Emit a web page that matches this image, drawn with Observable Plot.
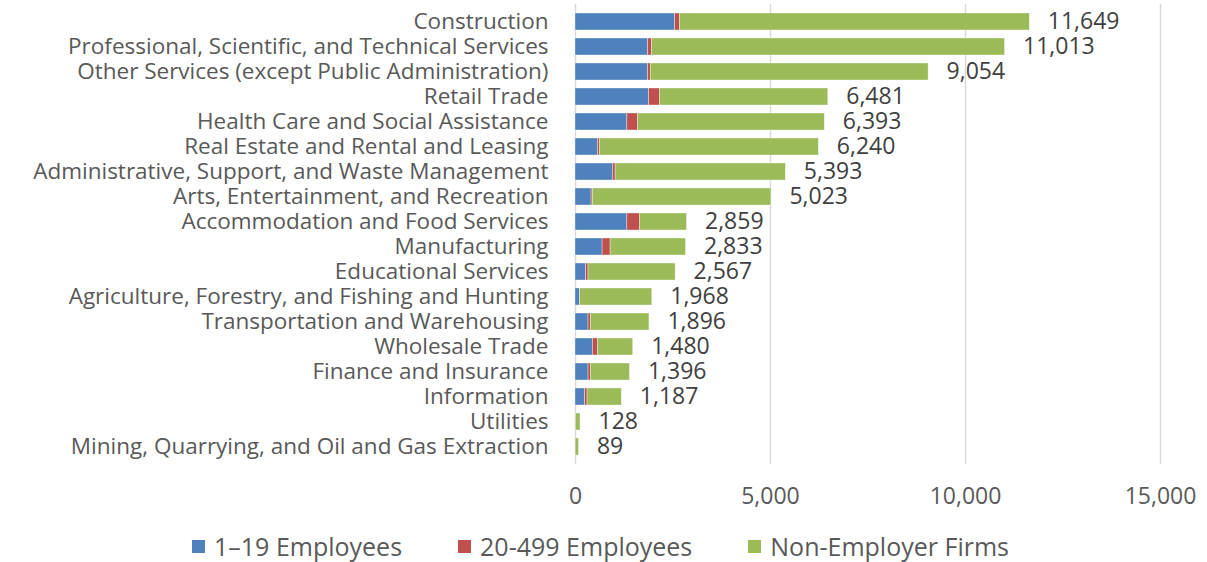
<!DOCTYPE html>
<html>
<head>
<meta charset="utf-8">
<script src="https://cdn.jsdelivr.net/npm/d3@7"></script>
<script src="https://cdn.jsdelivr.net/npm/@observablehq/plot@0.6"></script>
<style>
  html, body { margin: 0; padding: 0; background: #fff; }
  body { width: 1207px; height: 562px; overflow: hidden; font-family: "Open Sans", sans-serif; color: #595959; }
  #legend { display: flex; justify-content: center; align-items: center; gap: 56px; font-size: 25px; height: 42px; margin-top: 5px; margin-left: -6px; }
  #legend span.item { display: flex; align-items: center; }
  #legend i { display: inline-block; width: 13px; height: 13px; margin-right: 9px; }
</style>
</head>
<body>
<div id="chart"></div>
<div id="legend"></div>
<script>
const categories = [
  "Construction",
  "Professional, Scientific, and Technical Services",
  "Other Services (except Public Administration)",
  "Retail Trade",
  "Health Care and Social Assistance",
  "Real Estate and Rental and Leasing",
  "Administrative, Support, and Waste Management",
  "Arts, Entertainment, and Recreation",
  "Accommodation and Food Services",
  "Manufacturing",
  "Educational Services",
  "Agriculture, Forestry, and Fishing and Hunting",
  "Transportation and Warehousing",
  "Wholesale Trade",
  "Finance and Insurance",
  "Information",
  "Utilities",
  "Mining, Quarrying, and Oil and Gas Extraction"
];
const seriesNames = ["1\u201319 Employees", "20-499 Employees", "Non-Employer Firms"];
const seriesColors = ["#4f81bd", "#c0504d", "#9bbb59"];
const employees1to19 = [2556, 1861, 1861, 1887, 1330, 575, 961, 412, 1330, 695, 274, 111, 334, 446, 334, 249, 5, 3];
const employees20to499 = [120, 103, 69, 283, 274, 51, 68, 34, 325, 205, 60, 9, 60, 129, 60, 60, 3, 1];
const nonEmployer = [8973, 9049, 7124, 4311, 4789, 5614, 4364, 4577, 1204, 1933, 2233, 1848, 1502, 905, 1002, 878, 120, 85];
const totals = [11649, 11013, 9054, 6481, 6393, 6240, 5393, 5023, 2859, 2833, 2567, 1968, 1896, 1480, 1396, 1187, 128, 89];
const xTicks = [0, 5000, 10000, 15000];

const seriesValues = [employees1to19, employees20to499, nonEmployer];
const rows = [];
categories.forEach((c, i) => {
  seriesNames.forEach((s, j) => rows.push({category: c, series: s, value: seriesValues[j][i]}));
});
const totalRows = categories.map((c, i) => ({category: c, total: totals[i]}));
const fmt = d3.format(",");

const chart = Plot.plot({
  width: 1207,
  height: 520,
  marginLeft: 575,
  marginRight: 47,
  marginTop: 4,
  marginBottom: 56,
  style: {fontFamily: "'Open Sans', sans-serif", fontSize: "22.5px", color: "#595959", background: "#fff"},
  x: {domain: [0, 15000], label: null},
  y: {domain: categories, padding: 0.31, label: null},
  color: {domain: seriesNames, range: seriesColors},
  marks: [
    Plot.gridX(xTicks, {stroke: "#d9d9d9", strokeOpacity: 1, strokeWidth: 1.5}),
    Plot.barX(rows, Plot.stackX({x: "value", y: "category", fill: "series", z: "series", order: seriesNames, stroke: "#fff", strokeWidth: 0.6, strokeOpacity: 0.6})),
    Plot.text(totalRows, {x: "total", y: "category", text: d => fmt(d.total), textAnchor: "start", dx: 18, fontSize: 23, fill: "#404040"}),
    Plot.axisY({tickSize: 0, tickPadding: 27}),
    Plot.axisX({ticks: xTicks, tickFormat: fmt, tickSize: 0, tickPadding: 23})
  ]
});
d3.select(chart).selectAll('g[aria-label="x-axis tick label"]').attr("font-size", 23);
document.getElementById("chart").appendChild(chart);

const legend = document.getElementById("legend");
seriesNames.forEach((s, j) => {
  const item = document.createElement("span");
  item.className = "item";
  const sw = document.createElement("i");
  sw.style.background = seriesColors[j];
  item.appendChild(sw);
  item.appendChild(document.createTextNode(s));
  legend.appendChild(item);
});
</script>
</body>
</html>
